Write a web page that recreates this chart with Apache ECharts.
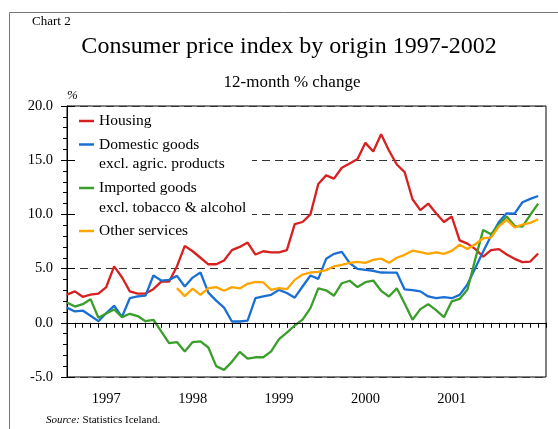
<!DOCTYPE html>
<html>
<head>
<meta charset="utf-8">
<script src="https://cdn.jsdelivr.net/npm/echarts@6/dist/echarts.min.js"></script>
<style>
html, body { margin: 0; padding: 0; background: #fff; }
#chart { width: 558px; height: 429px; }
</style>
</head>
<body>
<div id="chart"></div>
<script>
// 12-month % change, one point per month (index 0 = Jan 1997)
var years = ['1997', '1998', '1999', '2000', '2001'];

var housing = [2.6, 2.9, 2.4, 2.6, 2.7, 3.3, 5.2, 4.2, 2.9, 2.7,
  2.7, 3.1, 3.8, 3.8, 5.2, 7.1, 6.6, 6.0, 5.4, 5.4,
  5.75, 6.7, 7.0, 7.4, 6.3, 6.6, 6.5, 6.5, 6.7, 9.1,
  9.3, 10.0, 12.8, 13.6, 13.3, 14.3, 14.7, 15.1, 16.6, 15.8,
  17.4, 15.9, 14.6, 13.9, 11.4, 10.4, 11.0, 10.1, 9.3, 9.8,
  7.6, 7.3, 6.8, 6.1, 6.7, 6.8, 6.3, 5.9, 5.6, 5.65,
  6.4];

var domestic = [1.4, 1.05, 1.13, 0.65, 0.15, 0.9, 1.57, 0.55, 2.27, 2.43,
  2.5, 4.36, 3.9, 3.96, 4.33, 3.35, 4.17, 4.64, 2.78, 2.05,
  1.4, 0.12, 0.12, 0.2, 2.27, 2.43, 2.58, 3.04, 2.75, 2.32,
  3.35, 4.36, 4.05, 5.9, 6.36, 6.54, 5.5, 4.98, 4.88, 4.8,
  4.64, 4.62, 4.62, 3.08, 3.02, 2.9, 2.43, 2.27, 2.37, 2.27,
  2.58, 3.55, 5.05, 6.57, 8.0, 9.3, 10.1, 10.07, 11.12, 11.43,
  11.7];

var imported = [1.88, 1.5, 1.72, 2.18, 0.47, 0.85, 1.23, 0.52, 0.83, 0.62,
  0.15, 0.28, -0.8, -1.87, -1.78, -2.64, -1.78, -1.72, -2.28, -4.0,
  -4.34, -3.6, -2.68, -3.3, -3.18, -3.18, -2.64, -1.5, -0.9, -0.25,
  0.3, 1.35, 3.18, 3.0, 2.5, 3.65, 3.88, 3.3, 3.75, 3.9,
  2.95, 2.43, 3.18, 1.78, 0.28, 1.26, 1.72, 1.17, 0.52, 1.98,
  2.2, 3.07, 5.9, 8.57, 8.17, 9.05, 9.8, 8.95, 8.88, 9.95,
  11.0];

var otherServices = [null, null, null, null, null, null, null, null, null, null,
  null, null, null, null, 3.2, 2.46, 3.15, 2.58, 3.2, 3.29,
  2.95, 3.29, 3.17, 3.6, 3.78, 3.72, 3.04, 3.2, 3.1, 3.96,
  4.45, 4.64, 4.7, 4.86, 5.2, 5.35, 5.53, 5.62, 5.53, 5.8,
  5.92, 5.53, 6.0, 6.27, 6.65, 6.53, 6.36, 6.5, 6.36, 6.64,
  7.2, 6.8, 7.25, 7.8, 7.86, 8.9, 9.5, 8.8, 9.05, 9.22,
  9.55];

var subLines = {
  'Domestic goods': 'excl. agric. products',
  'Imported goods': 'excl. tobacco & alcohol'
};

var font = 'Liberation Serif';

function toPairs(arr) {
  var out = [];
  for (var i = 0; i < arr.length; i++) {
    out.push([i, arr[i]]);
  }
  return out;
}

function lineSeries(name, data, color) {
  return {
    name: name,
    type: 'line',
    data: toPairs(data),
    symbol: 'none',
    showSymbol: false,
    connectNulls: false,
    color: color,
    lineStyle: { color: color, width: 2.3 },
    animation: false
  };
}

// one legend per entry so the icon sits on the first text line
function legendFor(name, lineY) {
  var two = !!subLines[name];
  return {
    data: [name],
    left: 79,
    top: two ? lineY - 29.25 : lineY - 9.75,
    padding: 0,
    icon: 'rect',
    itemWidth: 15,
    itemHeight: 2.5,
    selectedMode: false,
    formatter: function (n) {
      return subLines[n] ? ' \n' + n + '\n' + subLines[n] : n;
    },
    textStyle: { fontFamily: font, fontSize: 15.5, lineHeight: 19.5, color: '#000' }
  };
}

function plainTitle(text, left, top, size, extra) {
  var t = {
    text: text, left: left, top: top, padding: 0,
    textStyle: { fontFamily: font, fontSize: size, fontWeight: 'normal', color: '#000' }
  };
  for (var k in extra) {
    t[k] = extra[k];
  }
  return t;
}

var chart = echarts.init(document.getElementById('chart'));

var series = [
  lineSeries('Housing', housing, '#d7201f'),
  lineSeries('Domestic goods', domestic, '#1a6fd4'),
  lineSeries('Imported goods', imported, '#3a9f2a'),
  lineSeries('Other services', otherServices, '#ffa500')
];
series[0].markLine = {
  silent: true,
  symbol: ['none', 'none'],
  label: { show: false },
  lineStyle: { color: '#000', type: 'solid', width: 1 },
  animation: false,
  data: [{ yAxis: 0 }]
};

var source = plainTitle('{i|Source:} Statistics Iceland.', 46, 415, 11, {});
source.textStyle.rich = { i: { fontFamily: font, fontSize: 11, fontStyle: 'italic', color: '#000' } };
var pct = plainTitle('%', 67, 89, 13, {});
pct.textStyle.fontStyle = 'italic';

chart.setOption({
  animation: false,
  backgroundColor: '#fff',
  title: [
    plainTitle('Chart 2', 32, 15, 13, {}),
    plainTitle('Consumer price index by origin 1997-2002', 289, 35, 24, { textAlign: 'center' }),
    plainTitle('12-month % change', 292, 74, 17, { textAlign: 'center' }),
    pct,
    source
  ],
  graphic: [
    { type: 'rect', silent: true, z: 0,
      shape: { x: 9.5, y: 12.5, width: 620, height: 500 },
      style: { fill: 'none', stroke: '#777', lineWidth: 1 } },
    { type: 'rect', silent: true, z: 3,
      shape: { x: 76, y: 109, width: 176, height: 132 },
      style: { fill: '#fff' } }
  ],
  legend: [
    legendFor('Imported goods', 188),
    legendFor('Domestic goods', 144.5),
    legendFor('Housing', 121),
    legendFor('Other services', 231)
  ],
  grid: {
    left: 67, right: 12, top: 106, bottom: 52,
    show: true, borderColor: '#000', borderWidth: 1, backgroundColor: 'transparent'
  },
  xAxis: {
    type: 'value', min: 0, max: 61, interval: 1, position: 'bottom',
    axisLine: { lineStyle: { color: '#000', width: 1 } },
    axisTick: { show: true, length: 5, lineStyle: { color: '#000' } },
    splitLine: { show: false },
    axisLabel: {
      margin: 15, fontFamily: font, fontSize: 14.5, color: '#000',
      formatter: function (v) {
        // year labels sit every 11 ticks, as in the source chart
        var k = (v - 5) / 11;
        return (Number.isInteger(k) && years[k]) ? years[k] : '';
      }
    }
  },
  yAxis: [
    {
      type: 'value', min: -5, max: 20, interval: 5, position: 'left',
      axisLine: { show: true, lineStyle: { color: '#000', width: 1 } },
      axisTick: { show: true, length: 6, lineStyle: { color: '#000' } },
      minorTick: { show: true, splitNumber: 5, length: 4, lineStyle: { color: '#000' } },
      splitLine: { show: true, lineStyle: { color: '#333', type: [8, 5], width: 1.2 } },
      axisLabel: {
        margin: 14, fontFamily: font, fontSize: 14.5, color: '#000',
        formatter: function (v) { return v.toFixed(1); }
      }
    },
    {
      type: 'value', min: -5, max: 20, interval: 5, position: 'left',
      axisLine: { show: false },
      axisTick: { show: true, inside: true, length: 8, lineStyle: { color: '#000' } },
      axisLabel: { show: false },
      splitLine: { show: false }
    }
  ],
  series: series
});
</script>
</body>
</html>
